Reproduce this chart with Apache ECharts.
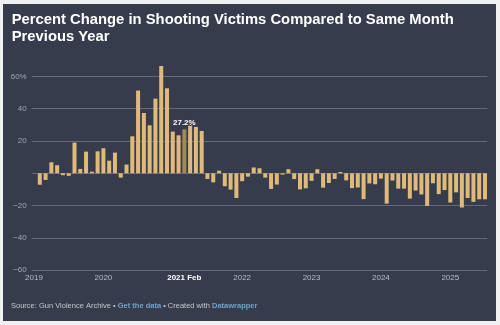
<!DOCTYPE html>
<html><head><meta charset="utf-8">
<script src="https://cdn.jsdelivr.net/npm/echarts@6/dist/echarts.min.js"></script>
<style>
html,body{margin:0;padding:0;background:#f0f0f0;width:500px;height:325px;overflow:hidden}
#chart{position:absolute;left:3px;top:4px;width:493px;height:317px;background:#363c4c}
</style></head><body><div id="chart"></div>
<script>
const startYear = 2019;
const values2019 = [-7.1, -4.1, 6.8, 5.0, -1.2, -1.6, 19.0, 2.7, 13.4, 1.0, 13.6, 15.5];
const values2020 = [7.8, 12.8, -2.7, 5.4, 22.9, 51.2, 37.3, 29.7, 46.2, 66.4, 52.6, 25.8];
const values2021 = [23.5, 27.2, 32.0, 28.7, 26.2, -3.5, -5.6, 1.6, -8.0, -10.1, -15.3, -4.9];
const values2022 = [-2.1, 3.6, 3.1, -2.7, -9.7, -7.0, -0.8, 2.5, -3.6, -10.0, -9.3, -4.7];
const values2023 = [2.5, -8.9, -6.0, -3.5, 0.8, -4.4, -9.2, -8.8, -16.0, -6.3, -6.8, -3.3];
const values2024 = [-18.8, -4.5, -9.5, -9.5, -15.7, -10.7, -13.1, -20.2, -6.2, -12.9, -10.4, -18.1];
const values2025 = [-11.8, -21.2, -15.3, -17.7, -16.1, -16.1];
const highlightMonth = '2021-02';
const xTickLabels = ['2019', '2020', '2021 Feb', '2022', '2023', '2024', '2025'];
const yTickValues = [-60, -40, -20, 0, 20, 40, 60];

const yearly = [values2019, values2020, values2021, values2022, values2023, values2024, values2025];
const months = [];
const values = [];
yearly.forEach((arr, k) => arr.forEach((v, m) => {
  months.push(`${startYear + k}-${String(m + 1).padStart(2, '0')}`);
  values.push(v);
}));
const hi = months.indexOf(highlightMonth);
// bars are placed at the end of their month (month index + 1), year ticks at the start of January
const tickPos = xTickLabels.map(t => /^\d{4}$/.test(t) ? months.indexOf(t + '-01') : hi + 1);
const tickText = {};
tickPos.forEach((p, i) => tickText[p] = xTickLabels[i]);

const BG = '#363c4c';
const FONT = 'Liberation Sans, Arial, sans-serif';
const chart = echarts.init(document.getElementById('chart'), null, {renderer: 'canvas'});
chart.setOption({
  animation: false,
  backgroundColor: 'transparent',
  textStyle: {fontFamily: FONT},
  title: [{
    text: 'Percent Change in Shooting Victims Compared to Same Month\nPrevious Year',
    left: 8.7, top: 7.5, padding: 0,
    textStyle: {color: '#ffffff', fontSize: 14.8, fontWeight: 'bold', lineHeight: 17, fontFamily: FONT}
  }, {
    text: '{n|Source: Gun Violence Archive • }{l|Get the data}{n| • Created with }{l|Datawrapper}',
    left: 8, top: 297.5, padding: 0,
    textStyle: {
      fontSize: 7.5, fontWeight: 'normal', fontFamily: FONT,
      rich: {
        n: {color: '#c3c6cc', fontSize: 7.5, fontWeight: 'normal', fontFamily: FONT},
        l: {color: '#6fa4c9', fontSize: 7.5, fontWeight: 'bold', fontFamily: FONT}
      }
    }
  }],
  grid: {left: 28.7, right: 8.7, top: 56.2, bottom: 50.8, containLabel: false, outerBoundsMode: 'none'},
  xAxis: {
    type: 'value', min: -0.4, max: 78.4,
    axisLine: {show: false}, axisTick: {show: false}, splitLine: {show: false},
    axisLabel: {
      customValues: tickPos,
      margin: 4,
      color: '#b9bdc5', fontSize: 8, fontFamily: FONT,
      formatter: v => {
        const t = tickText[Math.round(v)] || '';
        return Math.round(v) === hi + 1 ? '{b|' + t + '}' : t;
      },
      rich: {b: {color: '#ffffff', fontWeight: 'bold', fontSize: 8, fontFamily: FONT}}
    }
  },
  yAxis: {
    type: 'value', min: -60, max: 70, interval: 20,
    axisLine: {show: false}, axisTick: {show: false},
    splitLine: {show: true, showMaxLine: false, lineStyle: {color: '#646a78', width: 1}},
    axisLabel: {
      showMaxLabel: false,
      margin: 5, color: '#a3a7b0', fontSize: 8, fontFamily: FONT,
      formatter: v => {
        if (!yTickValues.includes(v) || v === 0) return '';
        if (v === 60) return v + '%';
        return String(v).replace('-', '\u2212');
      }
    }
  },
  series: [{
    type: 'bar',
    barWidth: 4,
    itemStyle: {color: '#dfba7b'},
    data: values.map((v, i) => i === hi ? {
      value: [i + 1, v],
      itemStyle: {color: '#a68757'},
      label: {
        show: true, position: 'top', distance: 3,
        formatter: p => p.value[1].toFixed(1) + '%',
        color: '#ffffff', fontWeight: 'bold', fontSize: 8, fontFamily: FONT,
        textBorderColor: BG, textBorderWidth: 2
      }
    } : [i + 1, v])
  }]
});
</script></body></html>
